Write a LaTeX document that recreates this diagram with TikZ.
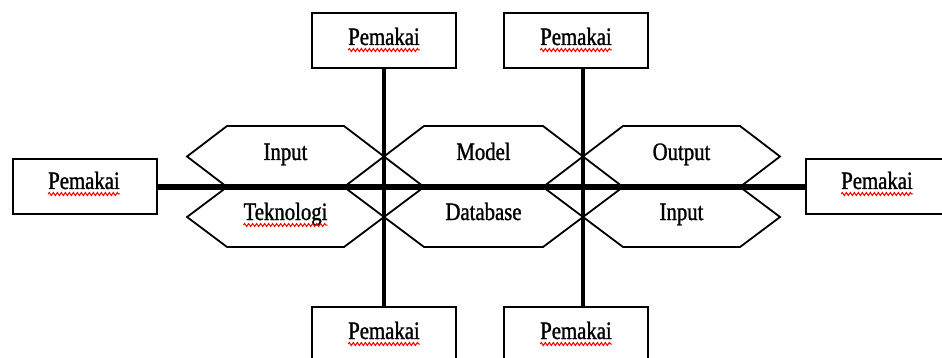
\documentclass[tikz,border=0pt]{standalone}
\usepackage{fontspec}
\setmainfont{Liberation Serif}[FakeStretch=0.83,FakeBold=1.2]
\usetikzlibrary{decorations.pathmorphing}
\tikzset{
  box/.style={draw, line width=2pt, fill=white, minimum width=144pt, minimum height=55pt, inner sep=0pt},
  lbl/.style={inner sep=0pt, anchor=base, font=\fontsize{25}{30}\selectfont},
  hexa/.style={draw, line width=1.8pt, line join=miter},
  hline/.style={line width=6pt},
  vline/.style={line width=4.5pt},
  squig/.style={draw=red, line width=1pt, decorate, decoration={snake, amplitude=1.5pt, segment length=4pt}}
}
\newcommand\redwave[1]{\draw[squig] ([yshift=-5pt]#1.base west) -- ([yshift=-5pt]#1.base east);}
\begin{document}
\begin{tikzpicture}[x=1pt,y=-1pt]
\useasboundingbox (0,0) rectangle (942,358);
\clip (0,0) rectangle (942,358);
% hexagons (upper row)
\draw[hexa] (187,156.5) -- (227,126) -- (344,126) -- (384,156.5) -- (344,187) -- (227,187) -- cycle;
\draw[hexa] (384,156.5) -- (424,126) -- (543,126) -- (583,156.5) -- (543,187) -- (424,187) -- cycle;
\draw[hexa] (583,156.5) -- (623,126) -- (740,126) -- (780,156.5) -- (740,187) -- (623,187) -- cycle;
% hexagons (lower row)
\draw[hexa] (187,217) -- (227,187) -- (344,187) -- (384,217) -- (344,247) -- (227,247) -- cycle;
\draw[hexa] (384,217) -- (424,187) -- (543,187) -- (583,217) -- (543,247) -- (424,247) -- cycle;
\draw[hexa] (583,217) -- (623,187) -- (740,187) -- (780,217) -- (740,247) -- (623,247) -- cycle;
% boxes
\node[box] (L) at (84.5,187) {};
\node[box, minimum width=142pt] (R) at (877,187) {};
\node[box] (T1) at (384,41) {};
\node[box] (T2) at (576,41) {};
\node[box] (B1) at (384,334) {};
\node[box] (B2) at (576,334) {};
% connectors
\draw[hline] (L.east) -- (R.west);
\draw[vline] (T1.south) -- (B1.north);
\draw[vline] ([xshift=7pt]T2.south) -- ([xshift=7pt]B2.north);
% box labels
\node[lbl] (tL) at (84,189) {Pemakai};
\node[lbl] (tR) at (877,189) {Pemakai};
\node[lbl] (tT1) at (384,45) {Pemakai};
\node[lbl] (tT2) at (576,45) {Pemakai};
\node[lbl] (tB1) at (384,339) {Pemakai};
\node[lbl] (tB2) at (576,339) {Pemakai};
% hexagon labels
\node[lbl] (h1) at (285.5,160) {Input};
\node[lbl] (h2) at (483.5,160) {Model};
\node[lbl] (h3) at (681.5,160) {Output};
\node[lbl] (h4) at (285.5,220) {Teknologi};
\node[lbl] (h5) at (483.5,220) {Database};
\node[lbl] (h6) at (681.5,220) {Input};
% spell-check underlines
\redwave{tL}\redwave{tR}\redwave{tT1}\redwave{tT2}\redwave{tB1}\redwave{tB2}\redwave{h4}
\end{tikzpicture}
\end{document}
